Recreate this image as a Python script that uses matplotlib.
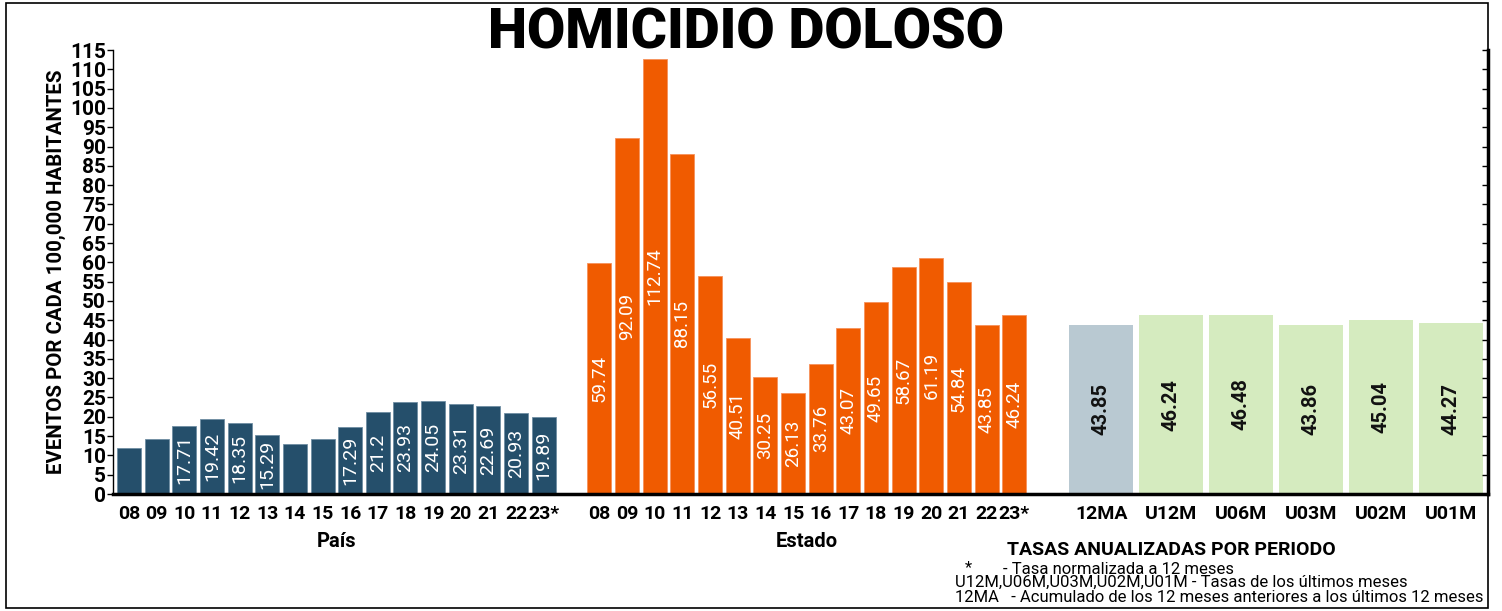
import numpy as np
import matplotlib
matplotlib.use("Agg")
from matplotlib import pyplot as plt
from matplotlib.patches import Rectangle

plt.rcParams['font.family'] = ['Roboto', 'DejaVu Sans']

# Data
years = ["08", "09", "10", "11", "12", "13", "14", "15",
         "16", "17", "18", "19", "20", "21", "22", "23*"]
pais = [11.85, 14.3, 17.71, 19.42, 18.35, 15.29, 12.9, 14.3,
        17.29, 21.2, 23.93, 24.05, 23.31, 22.69, 20.93, 19.89]
pais_labels = ["", "", "17.71", "19.42", "18.35", "15.29", "", "",
               "17.29", "21.2", "23.93", "24.05", "23.31", "22.69", "20.93", "19.89"]
estado = [59.74, 92.09, 112.74, 88.15, 56.55, 40.51, 30.25, 26.13,
          33.76, 43.07, 49.65, 58.67, 61.19, 54.84, 43.85, 46.24]
periodos = ["12MA", "U12M", "U06M", "U03M", "U02M", "U01M"]
tasas = [43.85, 46.24, 46.48, 43.86, 45.04, 44.27]

c_pais = "#254f6b"
c_estado = "#f05b00"
c_12ma = "#b9c9d2"
c_ult = "#d5ebbf"

# layout (x in pixel-like units from the left spine)
pitch = 27.65
x_pais = 16 + np.arange(len(years)) * pitch
x_estado = 486.5 + np.arange(len(years)) * pitch
x_per = 988.5 + np.arange(len(periodos)) * 70

fig = plt.figure(figsize=(15.02, 6.11), dpi=100)
ax = fig.add_axes([113 / 1502, 1 - 494 / 611, 1375 / 1502, 444 / 611])

ax.bar(x_pais, pais, width=24, color=c_pais, edgecolor="#6f8ea3", linewidth=0.6)
ax.bar(x_estado, estado, width=24, color=c_estado, edgecolor="#f6915a", linewidth=0.6)
ax.bar(x_per, tasas, width=64,
       color=[c_12ma] + [c_ult] * (len(periodos) - 1), edgecolor="none")

for x, v, lab in zip(x_pais, pais, pais_labels):
    if lab:
        ax.text(x, v / 2, lab, rotation=90, ha="center", va="center",
                color="white", fontsize=14)
for x, v in zip(x_estado, estado):
    ax.text(x, v / 2, f"{v:.2f}", rotation=90, ha="center", va="center",
            color="white", fontsize=13.5)
for x, v in zip(x_per, tasas):
    ax.text(x, v / 2, f"{v:.2f}", rotation=90, ha="center", va="center",
            color="#111111", fontsize=14.5, fontweight="bold")

ax.set_xlim(0, 1375)
ax.set_ylim(0, 115)
ax.set_yticks(np.arange(0, 116, 5))
ax.tick_params(axis="y", direction="out", length=4, width=1,
               labelsize=15, pad=1)
for t in ax.get_yticklabels():
    t.set_fontweight("bold")

ax.set_xticks(list(x_pais) + list(x_estado) + list(x_per))
ax.set_xticklabels(years + years + periodos, fontsize=14, fontweight="bold")
ax.tick_params(axis="x", length=0, pad=8)

ax.spines["top"].set_visible(False)
ax.spines["right"].set_visible(False)
ax.spines["left"].set_linewidth(1)
ax.spines["bottom"].set_linewidth(2.5)

# right axis: ticks pointing inward, no labels
ax2 = ax.twinx()
ax2.set_ylim(0, 115)
ax2.set_yticks(np.arange(0, 116, 5))
ax2.tick_params(axis="y", direction="in", length=4, width=1, labelright=False)
for s in ["top", "left", "bottom"]:
    ax2.spines[s].set_visible(False)
ax2.spines["right"].set_linewidth(2.5)

ax.set_ylabel("EVENTOS POR CADA 100,000 HABITANTES", fontsize=14.7,
              fontweight="bold", labelpad=3)

trans = ax.get_xaxis_transform()
ax.text(x_pais.mean(), -0.106, "País", transform=trans, ha="center", va="center",
        fontsize=14.5, fontweight="bold")
ax.text(x_estado.mean(), -0.106, "Estado", transform=trans, ha="center", va="center",
        fontsize=14.5, fontweight="bold")

fig.text(0.4967, 0.946, "HOMICIDIO DOLOSO", ha="center", va="center",
         fontsize=40, fontweight="heavy")
fig.text(0.780, 0.100, "TASAS ANUALIZADAS POR PERIODO", ha="center", va="center",
         fontsize=14, fontweight="bold")
fig.text(968 / 1502, 1 - 568 / 611, "*", ha="center", va="center", fontsize=12)
fig.text(1003 / 1502, 1 - 570 / 611, "- Tasa normalizada a 12 meses",
         ha="left", va="center", fontsize=12)
fig.text(955 / 1502, 1 - 582 / 611,
         "U12M,U06M,U03M,U02M,U01M - Tasas de los últimos meses",
         ha="left", va="center", fontsize=12)
fig.text(955 / 1502, 1 - 598 / 611,
         "12MA   - Acumulado de los 12 meses anteriores a los últimos 12 meses",
         ha="left", va="center", fontsize=12)

# outer frame
fig.patches.append(Rectangle((6 / 1502, 1 - 608 / 611), 1482 / 1502, 605 / 611,
                             transform=fig.transFigure, fill=False,
                             edgecolor="black", linewidth=1.2))

fig.savefig("out.png", dpi=100)
